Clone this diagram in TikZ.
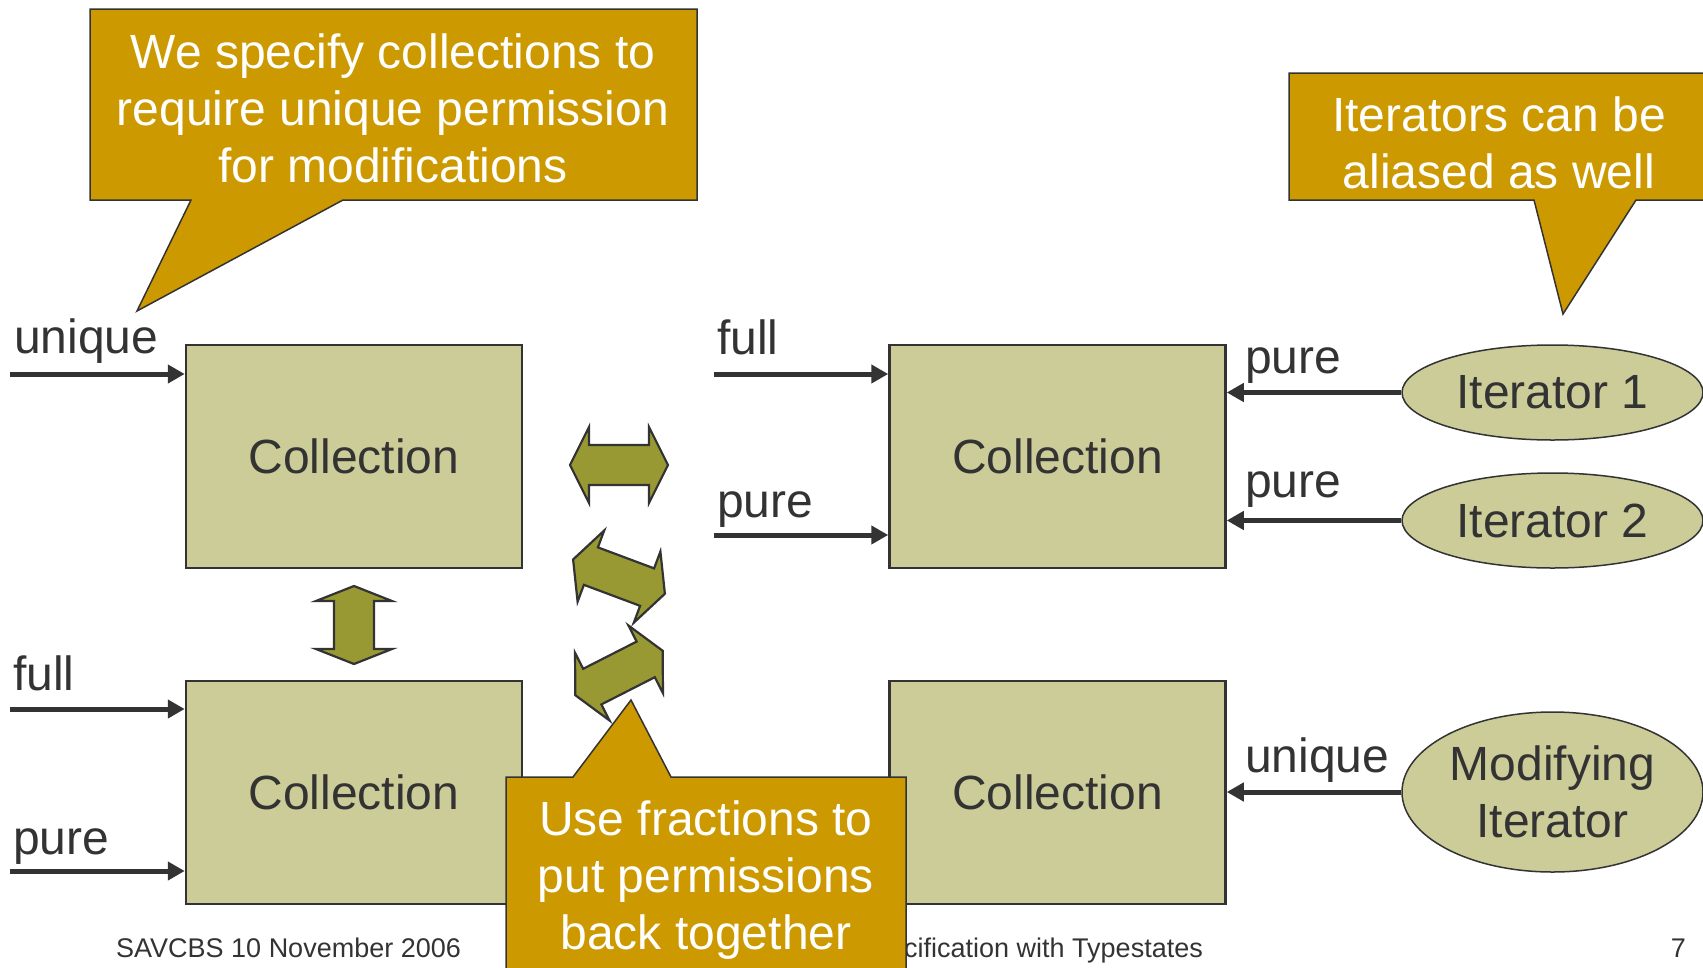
\documentclass[tikz,border=0pt]{standalone}
\usepackage{fontspec}
\setmainfont{Liberation Sans}
\usetikzlibrary{arrows.meta,shapes.geometric}
\definecolor{boxfill}{HTML}{CCCC99}
\definecolor{callfill}{HTML}{CC9900}
\definecolor{arrfill}{HTML}{999933}
\definecolor{ink}{HTML}{333333}
\begin{document}
\begin{tikzpicture}[x=1pt,y=-1pt,
  big/.style={font=\fontsize{48}{57}\selectfont, text=ink},
  collbox/.style={draw=ink, line width=2.5pt, fill=boxfill, minimum width=336pt, minimum height=223pt, inner sep=0pt, big},
  iter/.style={ellipse, draw=ink, line width=1.5pt, fill=boxfill, minimum width=301pt, minimum height=95pt, inner sep=0pt, big, align=center},
  lbl/.style={big, anchor=base west, inner sep=0pt},
  conn/.style={draw=ink, line width=5pt, -{Triangle[length=17pt,width=18pt]}},
  callout/.style={draw=ink, line width=1.5pt, fill=callfill, line join=miter},
  calltext/.style={font=\fontsize{48}{57}\selectfont, text=white, align=center, inner sep=0pt},
  dblarrow/.style={draw=ink, line width=2.2pt, fill=arrfill, line join=miter},
  foot/.style={font=\fontsize{27}{32}\selectfont, text=ink, inner sep=0pt}
]
\useasboundingbox (0,0) rectangle (1703,967);

% collection boxes
\node[collbox] (c1) at (354,456.5) {Collection};
\node[collbox] (c2) at (354,792.5) {Collection};
\node[collbox] (c3) at (1057.5,456.5) {Collection};
\node[collbox] (c4) at (1057.5,792.5) {Collection};

% iterators
\node[iter] (i1) at (1552.5,392.5) {Iterator 1};
\node[iter] (i2) at (1552.5,520.5) {Iterator 2};
\node[iter, minimum height=160pt] (i3) at (1552.5,792) {Modifying\\Iterator};

% incoming arrows
\coordinate (s1) at (10,374);
\coordinate (s2) at (10,709);
\coordinate (s3) at (10,871);
\coordinate (s4) at (714,374);
\coordinate (s5) at (714,535);
\draw[conn] (s1) -- (s1 -| c1.west);
\draw[conn] (s2) -- (s2 -| c2.west);
\draw[conn] (s3) -- (s3 -| c2.west);
\draw[conn] (s4) -- (s4 -| c3.west);
\draw[conn] (s5) -- (s5 -| c3.west);
\draw[conn] (i1.west) -- (i1.west -| c3.east);
\draw[conn] (i2.west) -- (i2.west -| c3.east);
\draw[conn] (i3.west) -- (i3.west -| c4.east);

% labels
\node[lbl] (l1) at (14,353) {unique};
\node[lbl] (l2) at (13,690) {full};
\node[lbl] (l3) at (13,854) {pure};
\node[lbl] (l4) at (717,354) {full};
\node[lbl] (l5) at (717,517) {pure};
\node[lbl] (l6) at (1245,373) {pure};
\node[lbl] (l7) at (1245,497) {pure};
\node[lbl] (l8) at (1245,772) {unique};

% double block arrows
\draw[dblarrow, shift={(619,465)}]
  (-49,0) -- (-30,-38) -- (-30,-20) -- (30,-20) -- (30,-38) -- (49,0)
  -- (30,38) -- (30,20) -- (-30,20) -- (-30,38) -- cycle;
\draw[dblarrow, shift={(619,576.6)}, rotate=-20.5]
  (-49,0) -- (-30,-38) -- (-30,-20) -- (30,-20) -- (30,-38) -- (49,0)
  -- (30,38) -- (30,20) -- (-30,20) -- (-30,38) -- cycle;
\draw[dblarrow, shift={(619,673)}, rotate=27]
  (-49,0) -- (-30,-38) -- (-30,-20) -- (30,-20) -- (30,-38) -- (49,0)
  -- (30,38) -- (30,20) -- (-30,20) -- (-30,38) -- cycle;
\draw[dblarrow, shift={(354,625)}]
  (0,-39) -- (38,-24) -- (20,-24) -- (20,24) -- (38,24) -- (0,39)
  -- (-38,24) -- (-20,24) -- (-20,-24) -- (-38,-24) -- cycle;

% footer
\node[foot, anchor=base west] (f1) at (116,957) {SAVCBS 10 November 2006};
\node[foot, anchor=base east] (f2) at (1203,957) {Specification with Typestates};
\node[foot, anchor=base east] (f3) at (1686,957) {7};

% callouts
\draw[callout] (90,9) -- (697,9) -- (697,200) -- (343,200) -- (137,311) -- (191,200) -- (90,200) -- cycle;
\node[calltext] (t1) at (393,108) {We specify collections to\\require unique permission\\for modifications};

\draw[callout] (1289,73) -- (1720,73) -- (1720,200) -- (1636,200) -- (1563,314) -- (1534,200) -- (1289,200) -- cycle;
\node[calltext] (t2) at (1499,143) {Iterators can be\\aliased as well};

\draw[callout] (506,777) -- (573,777) -- (631,700) -- (671,777) -- (906,777) -- (906,985) -- (506,985) -- cycle;
\node[calltext] (t3) at (706,880) {Use fractions to\\put permissions\\back together};
\end{tikzpicture}
\end{document}
